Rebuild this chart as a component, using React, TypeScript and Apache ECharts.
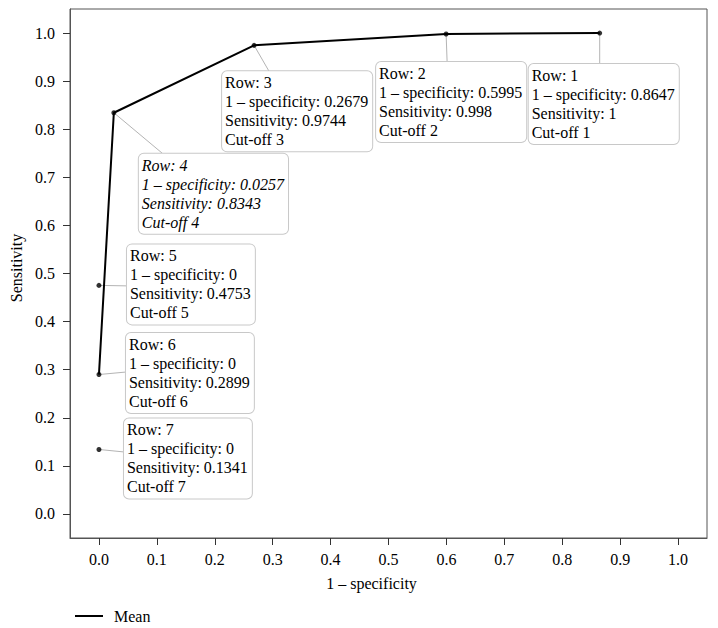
import React, { useEffect, useRef } from "react";
import * as echarts from "echarts";

// ---- data ----
const rows = [1, 2, 3, 4, 5, 6, 7];
const oneMinusSpecificity = [0.8647, 0.5995, 0.2679, 0.0257, 0, 0, 0];
const sensitivity = [1, 0.998, 0.9744, 0.8343, 0.4753, 0.2899, 0.1341];
const cutOffs = ["Cut-off 1", "Cut-off 2", "Cut-off 3", "Cut-off 4", "Cut-off 5", "Cut-off 6", "Cut-off 7"];
const meanPathRows = [6, 4, 3, 2, 1];
const highlightedRow = 4;
const xTicks = [0, 0.1, 0.2, 0.3, 0.4, 0.5, 0.6, 0.7, 0.8, 0.9, 1.0];
const yTicks = [0, 0.1, 0.2, 0.3, 0.4, 0.5, 0.6, 0.7, 0.8, 0.9, 1.0];

// ---- label placement (pixel offsets relative to each point) ----
const labelBoxOffsets = [
  [-71, 31],
  [-70, 28],
  [-32, 26],
  [25, 41],
  [28, -41],
  [27, -41.5],
  [25, -31],
];
const leaderEnds = [
  [0, 31],
  [1, 28],
  [15, 26],
  [49, 41],
  [28, 0.5],
  [27, -2.5],
  [25, 2.5],
];

const FONT = '"Liberation Serif", "Times New Roman", serif';

export default function App() {
  const ref = useRef<HTMLDivElement>(null);

  useEffect(() => {
    if (!ref.current) return;
    const chart = echarts.init(ref.current, undefined, { renderer: "svg" });

    const pointData = rows.map((r, i) => [oneMinusSpecificity[i], sensitivity[i], r]);
    const meanData = meanPathRows.map((r) => [oneMinusSpecificity[r - 1], sensitivity[r - 1]]);

    const option: any = {
      animation: false,
      backgroundColor: "#fff",
      grid: { left: 70, right: 11, top: 9, bottom: 90, show: true, borderColor: "#555", borderWidth: 1 },
      legend: {
        data: ["Mean"],
        left: 70,
        top: 603,
        icon: "rect",
        itemWidth: 28,
        itemHeight: 2,
        selectedMode: false,
        textStyle: { fontFamily: FONT, fontSize: 16, color: "#000", padding: [0, 0, 0, 6] },
      },
      xAxis: {
        type: "value",
        min: -0.05,
        max: 1.05,
        name: "1 – specificity",
        nameLocation: "middle",
        nameGap: 37,
        nameTextStyle: { fontFamily: FONT, fontSize: 16, color: "#000", padding: [0, 34, 0, 0] },
        axisLine: { show: true, onZero: false, lineStyle: { color: "#555", width: 1 } },
        axisTick: { show: true, length: 7, customValues: xTicks, lineStyle: { color: "#333" } },
        axisLabel: {
          customValues: xTicks,
          margin: 13,
          fontFamily: FONT,
          fontSize: 16,
          color: "#000",
          formatter: (v: number) => v.toFixed(1),
        },
        splitLine: { show: false },
      },
      yAxis: {
        type: "value",
        min: -0.05,
        max: 1.05,
        name: "Sensitivity",
        nameLocation: "middle",
        nameGap: 44,
        nameTextStyle: { fontFamily: FONT, fontSize: 16, color: "#000", padding: [0, 0, 0, 11] },
        axisLine: { show: true, onZero: false, lineStyle: { color: "#555", width: 1 } },
        axisTick: { show: true, length: 7, customValues: yTicks, lineStyle: { color: "#333" } },
        axisLabel: {
          customValues: yTicks,
          margin: 15,
          fontFamily: FONT,
          fontSize: 16,
          color: "#000",
          formatter: (v: number) => v.toFixed(1),
        },
        splitLine: { show: false },
      },
      series: [
        {
          type: "custom",
          name: "labels",
          z: 1,
          clip: false,
          silent: true,
          data: pointData,
          renderItem: (params: any, api: any) => {
            const i = params.dataIndex;
            const p = api.coord([api.value(0), api.value(1)]);
            const row = rows[i];
            const box = labelBoxOffsets[i];
            const end = leaderEnds[i];
            const italic = row === highlightedRow;
            const text = [
              `Row: ${row}`,
              `1 – specificity: ${oneMinusSpecificity[i]}`,
              `Sensitivity: ${sensitivity[i]}`,
              cutOffs[i],
            ].join("\n");
            return {
              type: "group",
              children: [
                {
                  type: "line",
                  shape: { x1: p[0], y1: p[1], x2: p[0] + end[0], y2: p[1] + end[1] },
                  style: { stroke: "#b4b4b4", lineWidth: 1 },
                },
                {
                  type: "text",
                  x: p[0] + box[0],
                  y: p[1] + box[1],
                  style: {
                    text,
                    fontFamily: FONT,
                    fontSize: 16,
                    fontStyle: italic ? "italic" : "normal",
                    fill: "#000",
                    lineHeight: 19,
                    align: "left",
                    verticalAlign: "top",
                    backgroundColor: "#fff",
                    borderColor: "#c8c8c8",
                    borderWidth: 1,
                    borderRadius: 5,
                    padding: [2, 4, 2, 3],
                  },
                },
              ],
            };
          },
        },
        {
          type: "line",
          name: "Mean",
          z: 3,
          data: meanData,
          showSymbol: false,
          symbol: "none",
          itemStyle: { color: "#000" },
          lineStyle: { color: "#000", width: 2 },
        },
        {
          type: "scatter",
          name: "points",
          z: 4,
          data: pointData,
          symbolSize: 5,
          itemStyle: { color: "#000" },
        },
      ],
    };

    chart.setOption(option);
    return () => chart.dispose();
  }, []);

  return <div ref={ref} style={{ width: 718, height: 628, position: "absolute", left: 0, top: 0 }} />;
}
